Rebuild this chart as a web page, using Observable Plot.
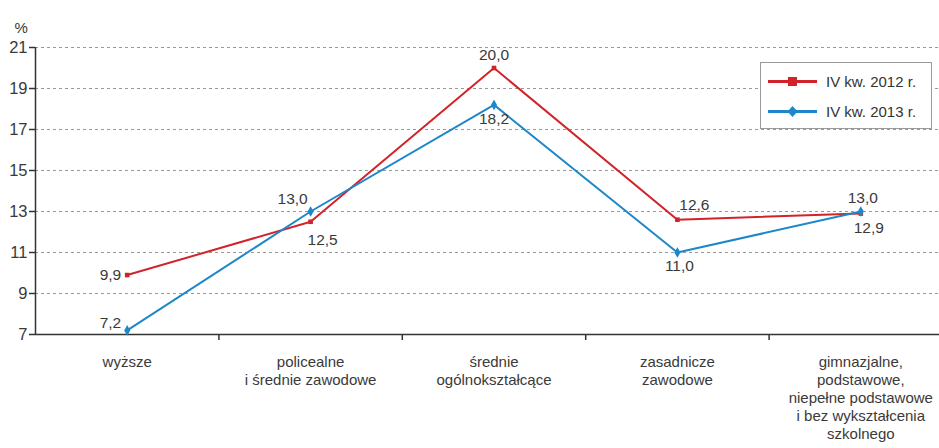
<!DOCTYPE html>
<html><head><meta charset="utf-8">
<script src="https://cdn.jsdelivr.net/npm/d3@7"></script>
<script src="https://cdn.jsdelivr.net/npm/@observablehq/plot@0.6"></script>
<style>
body{margin:0;background:#fff;font-family:"Liberation Sans",Arial,sans-serif;}
#wrap{position:relative;width:939px;height:448px;overflow:hidden;}
#legend{position:absolute;left:760px;top:62px;width:172px;height:67px;border:1px solid #9a9a9a;background:#fff;box-sizing:border-box;font-size:15px;color:#333;}
#legend .row{position:absolute;left:7px;display:flex;align-items:center;}
#legend svg{margin-right:9px;}
</style></head>
<body><div id="wrap"><div id="legend"></div></div>
<script>
const categories = ["wyższe","policealne\ni średnie zawodowe","średnie\nogólnokształcące","zasadnicze\nzawodowe","gimnazjalne,\npodstawowe,\nniepełne podstawowe\ni bez wykształcenia\nszkolnego"];
const values2012 = [9.9, 12.5, 20.0, 12.6, 12.9];
const values2013 = [7.2, 13.0, 18.2, 11.0, 13.0];
const seriesNames = ["IV kw. 2012 r.", "IV kw. 2013 r."];
const yTicks = [7, 9, 11, 13, 15, 17, 19, 21];

const RED = "#d2232a", BLUE = "#1c87c9";
const fmt = v => v.toFixed(1).replace(".", ",");
const d2012 = values2012.map((v, i) => ({i, v}));
const d2013 = values2013.map((v, i) => ({i, v}));
// label offsets (px) relative to point
const off2012 = [[-6, 0, "end"], [12, 18, "middle"], [0, -13, "middle"], [17, -15, "middle"], [8, 14, "middle"]];
const off2013 = [[-6, -7, "end"], [-18, -12, "middle"], [0, 14, "middle"], [2, 14, "middle"], [2, -13, "middle"]];
function labels(data, offs) {
  return data.map((d, k) => Plot.text([d], {x: "i", y: "v", text: d => fmt(d.v), dx: offs[k][0], dy: offs[k][1], textAnchor: offs[k][2], fontSize: 15.5, fill: "#3a3a3a"}));
}

const chart = Plot.plot({
  width: 939, height: 448,
  marginLeft: 35, marginRight: 0, marginTop: 47, marginBottom: 114,
  x: {type: "linear", domain: [-0.5, 4.5], range: [35, 952]},
  y: {domain: [7, 21]},
  style: {fontFamily: "'Liberation Sans', Arial, sans-serif", fontSize: "16px", color: "#3a3a3a", background: "#fff"},
  marks: [
    Plot.ruleY(yTicks.slice(1), {stroke: "#999", strokeDasharray: "3,3", strokeWidth: 1}),
    Plot.axisY({ticks: yTicks, tickSize: 6, tickPadding: 2, label: null, fontSize: 16.5, stroke: "#333", strokeWidth: 1.5}),
    Plot.axisX({ticks: [0, 1, 2, 3, 4], tickSize: 0, tickPadding: 20, tickFormat: i => categories[i], fontSize: 15, lineHeight: 1.2, label: null, textAnchor: "middle"}),
    Plot.axisX({ticks: [0.5, 1.5, 2.5, 3.5], tickSize: 6, tickFormat: () => "", label: null, stroke: "#333", strokeWidth: 1.5}),
    Plot.ruleY([7], {stroke: "#333", strokeWidth: 1.5}),
    Plot.ruleX([-0.5], {stroke: "#333", strokeWidth: 1.5}),
    Plot.text(["%"], {frameAnchor: "top-left", dx: -21, dy: -25, fontSize: 15, fill: "#3a3a3a"}),
    Plot.line(d2012, {x: "i", y: "v", stroke: RED, strokeWidth: 2}),
    Plot.dot(d2012, {x: "i", y: "v", symbol: "square", r: 2.6, fill: RED, stroke: "none"}),
    Plot.line(d2013, {x: "i", y: "v", stroke: BLUE, strokeWidth: 2}),
    Plot.dot(d2013, {x: "i", y: "v", symbol: "diamond", r: 3.2, fill: BLUE, stroke: "none"}),
    ...labels(d2012, off2012),
    ...labels(d2013, off2013)
  ]
});
document.getElementById("wrap").prepend(chart);

const legend = document.getElementById("legend");
[[seriesNames[0], RED, "square", 10], [seriesNames[1], BLUE, "diamond", 40]].forEach(([name, col, sym, top]) => {
  const row = document.createElement("div");
  row.className = "row"; row.style.top = top + "px";
  const marker = sym === "square"
    ? `<rect x="20" y="4" width="9" height="9" fill="${col}"/>`
    : `<polygon points="24.5,3 29.5,8.5 24.5,14 19.5,8.5" fill="${col}"/>`;
  row.innerHTML = `<svg width="49" height="17"><line x1="0" x2="49" y1="8.5" y2="8.5" stroke="${col}" stroke-width="3"/>${marker}</svg><span>${name}</span>`;
  legend.appendChild(row);
});
</script></body></html>
